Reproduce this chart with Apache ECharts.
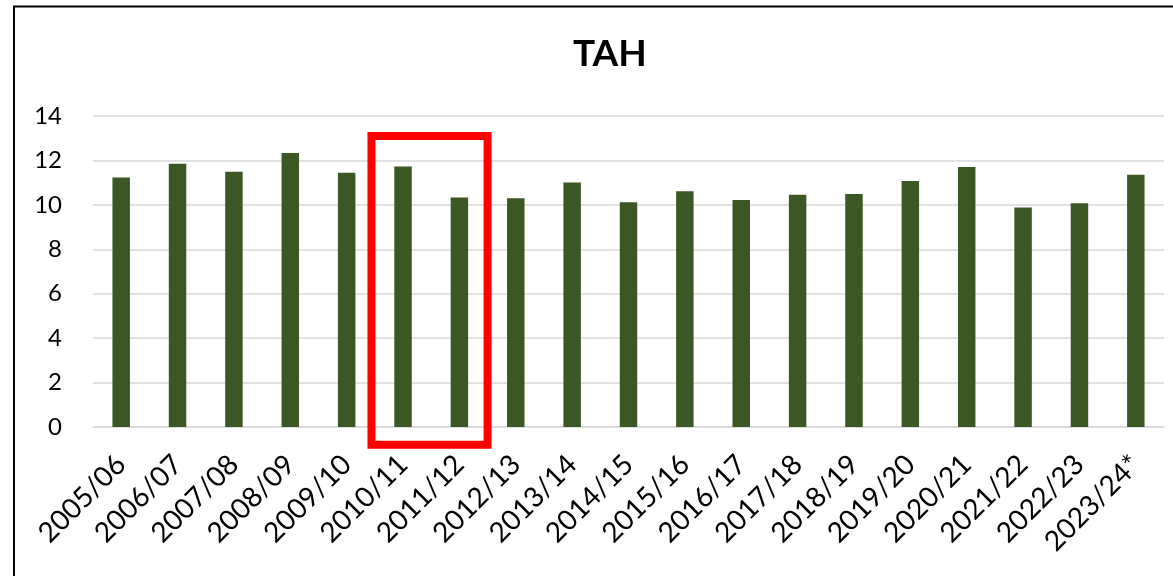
<!DOCTYPE html>
<html>
<head>
<meta charset="utf-8">
<script src="https://cdn.jsdelivr.net/npm/echarts@6/dist/echarts.min.js"></script>
<style>
  html, body { margin: 0; padding: 0; background: #fff; }
  #tah { width: 1173px; height: 576px; }
</style>
</head>
<body>
<div id="tah"></div>
<script>
var years = ["2005/06", "2006/07", "2007/08", "2008/09", "2009/10", "2010/11", "2011/12",
  "2012/13", "2013/14", "2014/15", "2015/16", "2016/17", "2017/18", "2018/19",
  "2019/20", "2020/21", "2021/22", "2022/23", "2023/24*"];
var tahValues = [11.23, 11.85, 11.49, 12.33, 11.45, 11.73, 10.33, 10.30, 11.01, 10.12,
  10.61, 10.22, 10.45, 10.49, 11.07, 11.70, 9.88, 10.07, 11.36];
// the years boxed in red
var boxFrom = "2010/11";
var boxTo = "2011/12";

var fontName = "Lato, 'Liberation Sans', sans-serif";
var chart = echarts.init(document.getElementById("tah"));

chart.setOption({
  backgroundColor: "#ffffff",
  animation: false,
  title: {
    text: "TAH",
    left: 568,
    top: 31,
    textStyle: { fontSize: 37, fontWeight: "bold", color: "#000000", fontFamily: fontName }
  },
  grid: { left: 93, right: 9, top: 116, bottom: 149 },
  xAxis: {
    type: "category",
    data: years,
    axisLine: { lineStyle: { color: "#d9d9d9", width: 1.5 } },
    axisTick: { show: false },
    axisLabel: {
      rotate: 45,
      interval: 0,
      margin: 33,
      fontSize: 28,
      color: "#000000",
      fontFamily: fontName
    }
  },
  yAxis: {
    type: "value",
    min: 0,
    max: 14,
    interval: 2,
    axisLine: { show: false },
    axisTick: { show: false },
    splitLine: { lineStyle: { color: "#d9d9d9", width: 1.5 } },
    axisLabel: { fontSize: 24, color: "#000000", margin: 31, fontFamily: fontName }
  },
  series: [
    {
      name: "TAH",
      type: "bar",
      data: tahValues,
      barWidth: "31%",
      itemStyle: { color: "#3a5724" }
    }
  ]
});

// frame of the chart area and the red highlight box, placed from the axes
function drawExtras() {
  var a = years.indexOf(boxFrom);
  var b = years.indexOf(boxTo);
  var x0 = chart.convertToPixel({ xAxisIndex: 0 }, years[0]);
  var x1 = chart.convertToPixel({ xAxisIndex: 0 }, years[1]);
  var band = x1 - x0;
  var left = chart.convertToPixel({ xAxisIndex: 0 }, years[a]) - 0.56 * band;
  var right = chart.convertToPixel({ xAxisIndex: 0 }, years[b]) + 0.5 * band;
  var top = chart.convertToPixel({ yAxisIndex: 0 }, 13.1);
  var bottom = chart.convertToPixel({ yAxisIndex: 0 }, -0.8);
  chart.setOption({
    graphic: [
      {
        type: "rect",
        shape: { x: 14, y: 6.5, width: 1300, height: 700 },
        style: { fill: null, stroke: "#000000", lineWidth: 2 },
        silent: true
      },
      {
        type: "rect",
        shape: { x: left, y: top, width: right - left, height: bottom - top },
        style: { fill: null, stroke: "#ff0000", lineWidth: 8 },
        z: 100,
        silent: true
      }
    ]
  });
}
drawExtras();
</script>
</body>
</html>
